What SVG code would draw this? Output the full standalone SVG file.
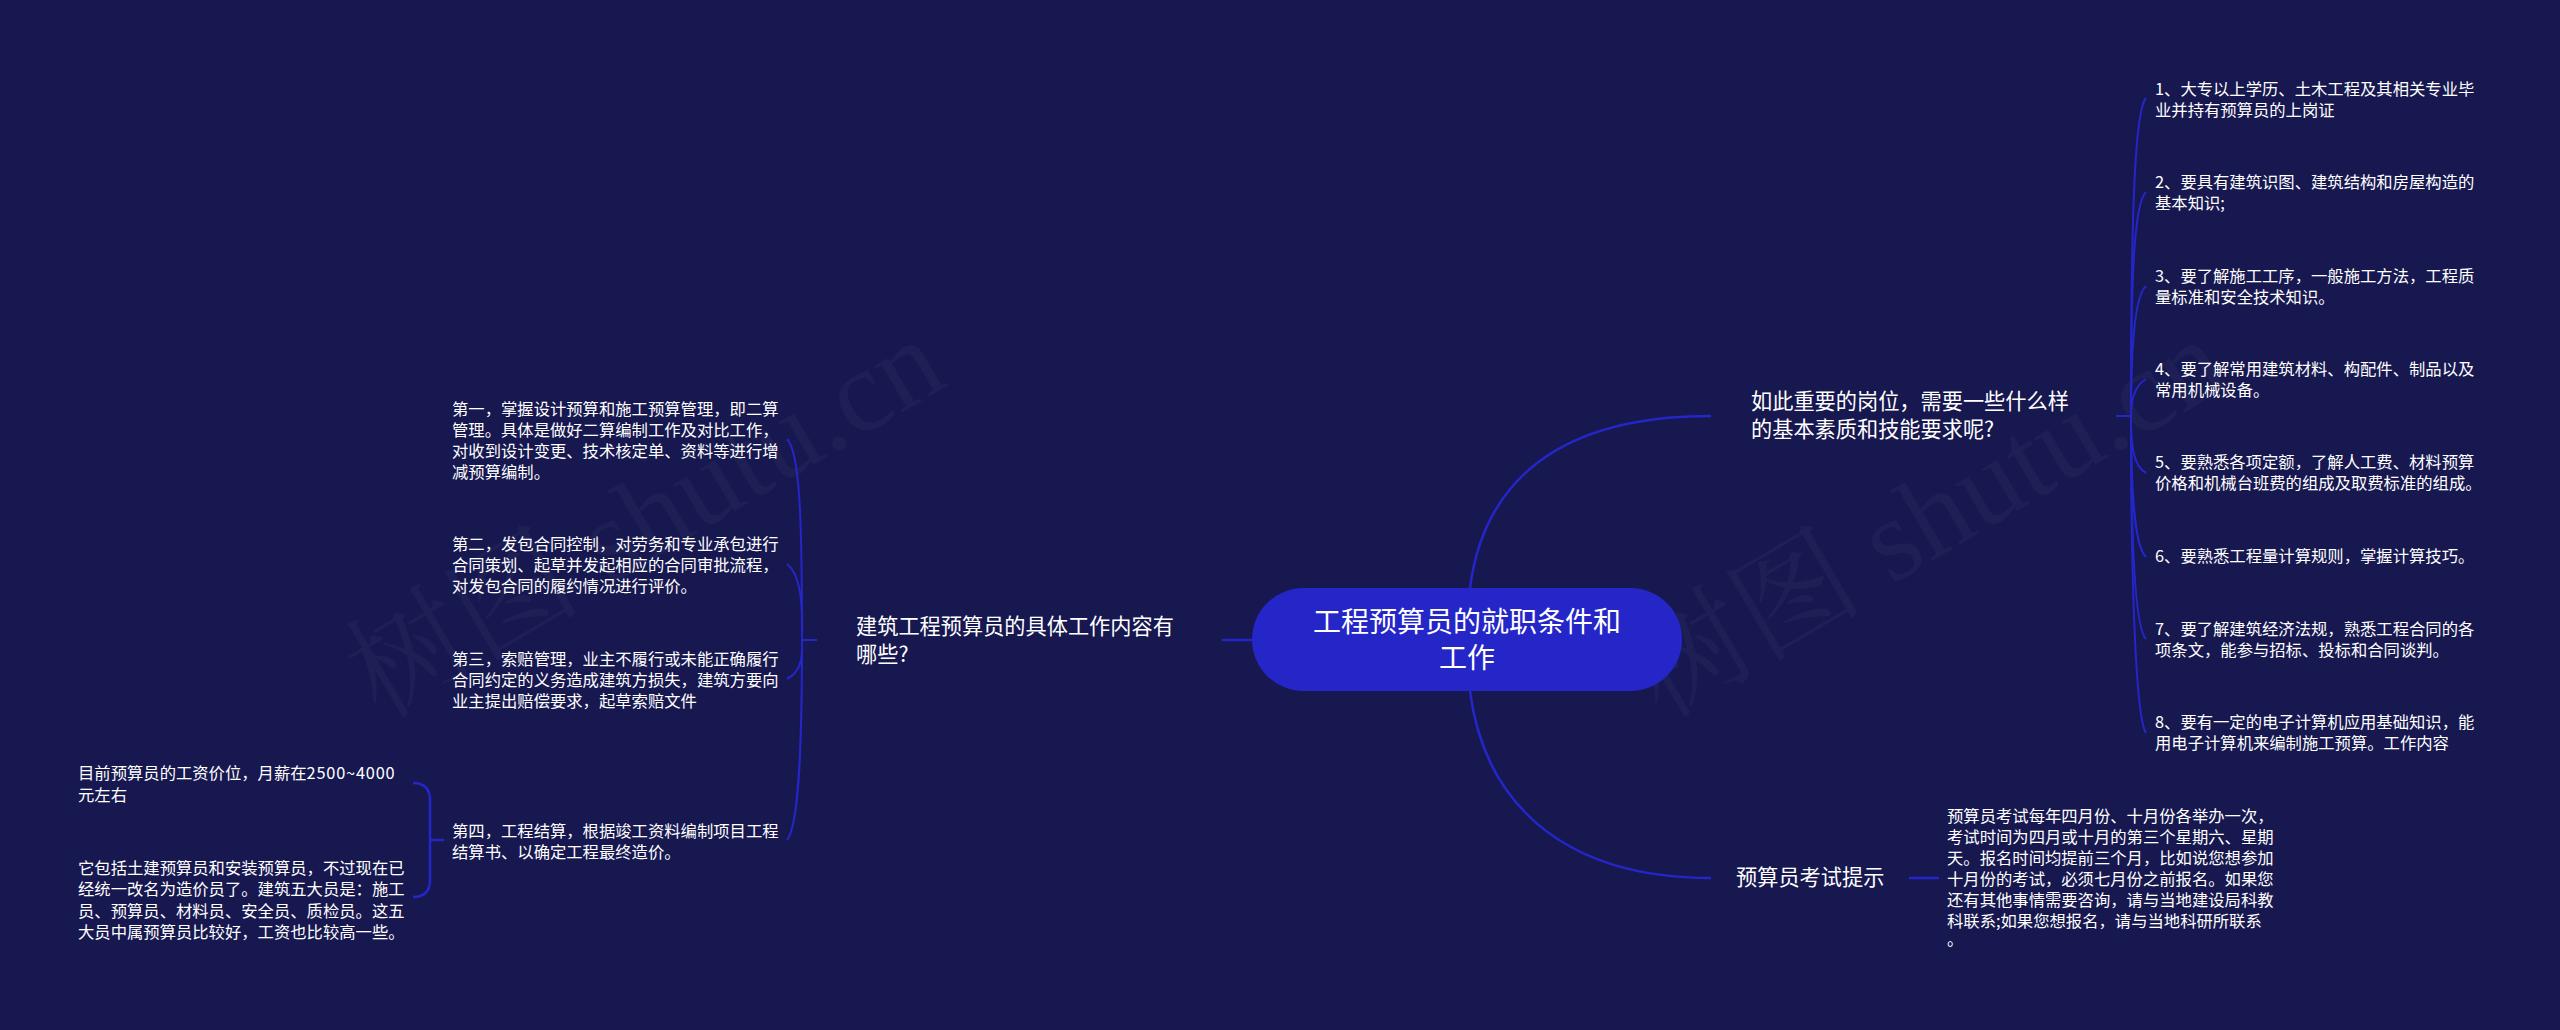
<svg xmlns="http://www.w3.org/2000/svg" width="2560" height="1030" viewBox="0 0 2560 1030">
<style>
text{font-family:"Noto Sans CJK SC","Noto Sans",sans-serif;fill:#fff}
.leaf{font-size:16.33px}
.branch{font-size:21.2px}
.root{font-size:28px;text-anchor:middle}
.wm{font-family:"Liberation Serif","Noto Serif CJK SC","Noto Sans CJK SC",serif;font-size:118px;fill:#fff;fill-opacity:.03}
.c{fill:none;stroke:#2526c8;stroke-width:2}
.c2{fill:none;stroke:#2526c8;stroke-width:2.5}
</style>
<rect width="2560" height="1030" fill="#171850"/>
<g id="watermarks">
<text class="wm" transform="translate(380 720) rotate(-30.5)">树图 shutu.cn</text>
<text class="wm" transform="translate(1662 720) rotate(-30.5)">树图 shutu.cn</text>
</g>
<g id="connectors">
<path class="c2" d="M1470 588C1484 480 1560 416 1711 416"/>
<path class="c2" d="M1470 691C1484 800 1560 878 1711 878"/>
<path class="c2" d="M1252 640H1222"/>
<path class="c2" d="M1909 878H1939"/>
<path class="c" d="M2116 416H2131"/>
<path class="c" d="M2131 416C2131 230 2134 112 2146 98"/>
<path class="c" d="M2131 416C2131 290 2133 204 2146 192"/>
<path class="c" d="M2131 416C2131 350 2134 296 2146 286"/>
<path class="c" d="M2131 416C2131 400 2134 386 2146 379"/>
<path class="c" d="M2131 416C2131 445 2133 466 2146 473"/>
<path class="c" d="M2131 416C2131 490 2134 546 2146 557"/>
<path class="c" d="M2131 416C2131 530 2134 628 2146 639"/>
<path class="c" d="M2131 416C2131 590 2136 718 2146 733"/>
<path class="c" d="M817 640H802"/>
<path class="c" d="M802 640C802 520 800 452 787 439"/>
<path class="c" d="M802 640C803 600 800 574 787 564"/>
<path class="c" d="M802 640C803 660 800 672 787 679"/>
<path class="c" d="M802 640C802 730 800 825 787 840"/>
<path class="c2" d="M444 840H430M413 783Q430 783 430 800V880Q430 897 413 897"/>
</g>
<g id="root">
<rect x="1252" y="588" width="430" height="103" rx="51.5" fill="#2526c8"/>
<text class="root" x="1467" y="632">工程预算员的就职条件和</text>
<text class="root" x="1467" y="668">工作</text>
</g>
<g id="branch-qualities">
<text class="branch" x="1751" y="409">如此重要的岗位，需要一些什么样</text>
<text class="branch" x="1751" y="437">的基本素质和技能要求呢?</text>
</g>
<g id="branch-exam">
<text class="branch" x="1736" y="885">预算员考试提示</text>
</g>
<g id="branch-work">
<text class="branch" x="856" y="634">建筑工程预算员的具体工作内容有</text>
<text class="branch" x="856" y="662">哪些?</text>
</g>
<g id="q1" class="leaf"><text x="2155" y="95">1、大专以上学历、土木工程及其相关专业毕</text><text x="2155" y="116">业并持有预算员的上岗证</text></g>
<g id="q2" class="leaf"><text x="2155" y="188">2、要具有建筑识图、建筑结构和房屋构造的</text><text x="2155" y="209">基本知识;</text></g>
<g id="q3" class="leaf"><text x="2155" y="282">3、要了解施工工序，一般施工方法，工程质</text><text x="2155" y="303">量标准和安全技术知识。</text></g>
<g id="q4" class="leaf"><text x="2155" y="375">4、要了解常用建筑材料、构配件、制品以及</text><text x="2155" y="396">常用机械设备。</text></g>
<g id="q5" class="leaf"><text x="2155" y="468">5、要熟悉各项定额，了解人工费、材料预算</text><text x="2155" y="489">价格和机械台班费的组成及取费标准的组成。</text></g>
<g id="q6" class="leaf"><text x="2155" y="562">6、要熟悉工程量计算规则，掌握计算技巧。</text></g>
<g id="q7" class="leaf"><text x="2155" y="635">7、要了解建筑经济法规，熟悉工程合同的各</text><text x="2155" y="656">项条文，能参与招标、投标和合同谈判。</text></g>
<g id="q8" class="leaf"><text x="2155" y="728">8、要有一定的电子计算机应用基础知识，能</text><text x="2155" y="749">用电子计算机来编制施工预算。工作内容</text></g>
<g id="exam-text" class="leaf">
<text x="1947" y="822">预算员考试每年四月份、十月份各举办一次，</text>
<text x="1947" y="843">考试时间为四月或十月的第三个星期六、星期</text>
<text x="1947" y="864">天。报名时间均提前三个月，比如说您想参加</text>
<text x="1947" y="885">十月份的考试，必须七月份之前报名。如果您</text>
<text x="1947" y="906">还有其他事情需要咨询，请与当地建设局科教</text>
<text x="1947" y="927">科联系;如果您想报名，请与当地科研所联系</text>
<text x="1947" y="945">。</text>
</g>
<g id="w1" class="leaf">
<text x="452" y="415">第一，掌握设计预算和施工预算管理，即二算</text>
<text x="452" y="436">管理。具体是做好二算编制工作及对比工作，</text>
<text x="452" y="457">对收到设计变更、技术核定单、资料等进行增</text>
<text x="452" y="478">减预算编制。</text>
</g>
<g id="w2" class="leaf">
<text x="452" y="550">第二，发包合同控制，对劳务和专业承包进行</text>
<text x="452" y="571">合同策划、起草并发起相应的合同审批流程，</text>
<text x="452" y="592">对发包合同的履约情况进行评价。</text>
</g>
<g id="w3" class="leaf">
<text x="452" y="665">第三，索赔管理，业主不履行或未能正确履行</text>
<text x="452" y="686">合同约定的义务造成建筑方损失，建筑方要向</text>
<text x="452" y="707">业主提出赔偿要求，起草索赔文件</text>
</g>
<g id="w4" class="leaf">
<text x="452" y="837">第四，工程结算，根据竣工资料编制项目工程</text>
<text x="452" y="858">结算书、以确定工程最终造价。</text>
</g>
<g id="s1" class="leaf">
<text x="78" y="779">目前预算员的工资价位，月薪在<tspan letter-spacing=".8">2500~4000</tspan></text>
<text x="78" y="801">元左右</text>
</g>
<g id="s2" class="leaf">
<text x="78" y="874">它包括土建预算员和安装预算员，不过现在已</text>
<text x="78" y="895">经统一改名为造价员了。建筑五大员是：施工</text>
<text x="78" y="917">员、预算员、材料员、安全员、质检员。这五</text>
<text x="78" y="938">大员中属预算员比较好，工资也比较高一些。</text>
</g>
</svg>
